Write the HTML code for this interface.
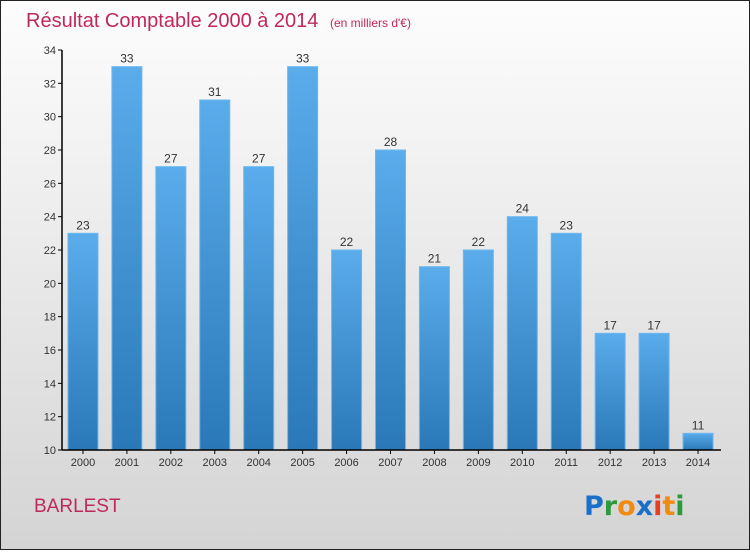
<!DOCTYPE html>
<html><head><meta charset="utf-8"><style>
html,body{margin:0;padding:0}
body{width:750px;height:550px;overflow:hidden;font-family:"Liberation Sans",sans-serif}
</style></head><body>
<svg id="c" width="750" height="550" xmlns="http://www.w3.org/2000/svg">
<defs>
<linearGradient id="bg" x1="0" y1="0" x2="0" y2="1"><stop offset="0" stop-color="#fdfdfd"/><stop offset="1" stop-color="#d4d4d4"/></linearGradient>
<linearGradient id="bar" x1="0" y1="0" x2="0" y2="1"><stop offset="0" stop-color="#5aaceb"/><stop offset="1" stop-color="#2a78b8"/></linearGradient>
</defs>
<rect x="0.5" y="0.5" width="749" height="549" fill="url(#bg)" stroke="#222"/>
<text x="26" y="27" font-size="20" fill="#c0285a">Résultat Comptable 2000 à 2014 <tspan font-size="12" dx="6">(en milliers d'€)</tspan></text>
<text x="34" y="512" font-size="19" fill="#c0285a">BARLEST</text>
<g font-size="27" font-weight="bold" font-family="'DejaVu Sans',sans-serif">
<text x="584" y="515"><tspan fill="#1a6fc8">P</tspan><tspan fill="#2a9a3a">r</tspan><tspan fill="#f08a10">o</tspan><tspan fill="#1a6fc8">x</tspan><tspan fill="#e84020">i</tspan><tspan fill="#f08a10">t</tspan><tspan fill="#2a9a3a">i</tspan></text>
</g>
<g id="plot"></g>
</svg>
<script>
const categories=["2000","2001","2002","2003","2004","2005","2006","2007","2008","2009","2010","2011","2012","2013","2014"];
const values=[23,33,27,31,27,33,22,28,21,22,24,23,17,17,11];
const yTicks=[10,12,14,16,18,20,22,24,26,28,30,32,34];
const NS="http://www.w3.org/2000/svg";
const g=document.getElementById("plot");
const x0=62,x1=721,yTop=50,yBot=450,yMin=10,yMax=34;
const step=(x1-x0)/categories.length;
const y=v=>yBot-(v-yMin)/(yMax-yMin)*(yBot-yTop);
const xc=i=>x0+step*(i+0.5)-1;
function el(t,a){const e=document.createElementNS(NS,t);for(const k in a)e.setAttribute(k,a[k]);g.appendChild(e);return e;}
yTicks.forEach(v=>{
 const l=el("line",{x1:x0-4,x2:x0,y1:y(v),y2:y(v),stroke:"#000"});
 
 
 const t=el("text",{x:x0-6,y:y(v)+4,"text-anchor":"end","font-size":"11",fill:"#333"});
 t.textContent=v;
 
 
});
values.forEach((v,i)=>{
 const r=el("rect",{x:xc(i)-15,y:y(v),width:30,height:yBot-y(v),fill:"url(#bar)",stroke:"#6ab8f0","stroke-width":"1"});
 
 
 const t=el("text",{x:xc(i),y:y(v)-4,"text-anchor":"middle","font-size":"12",fill:"#333"});
 t.textContent=v;
 
 
 const c=el("text",{x:xc(i),y:yBot+16,"text-anchor":"middle","font-size":"11",fill:"#333"});
 c.textContent=categories[i];
 
 
 const k=el("line",{x1:xc(i),x2:xc(i),y1:yBot,y2:yBot+4,stroke:"#000"});
 
 
});
const ya=el("line",{x1:x0,x2:x0,y1:yTop,y2:yBot,stroke:"#000","stroke-width":"1.5"});


const xa=el("line",{x1:x0,x2:x1,y1:yBot,y2:yBot,stroke:"#000","stroke-width":"1.5"});


</script>
</body></html>
